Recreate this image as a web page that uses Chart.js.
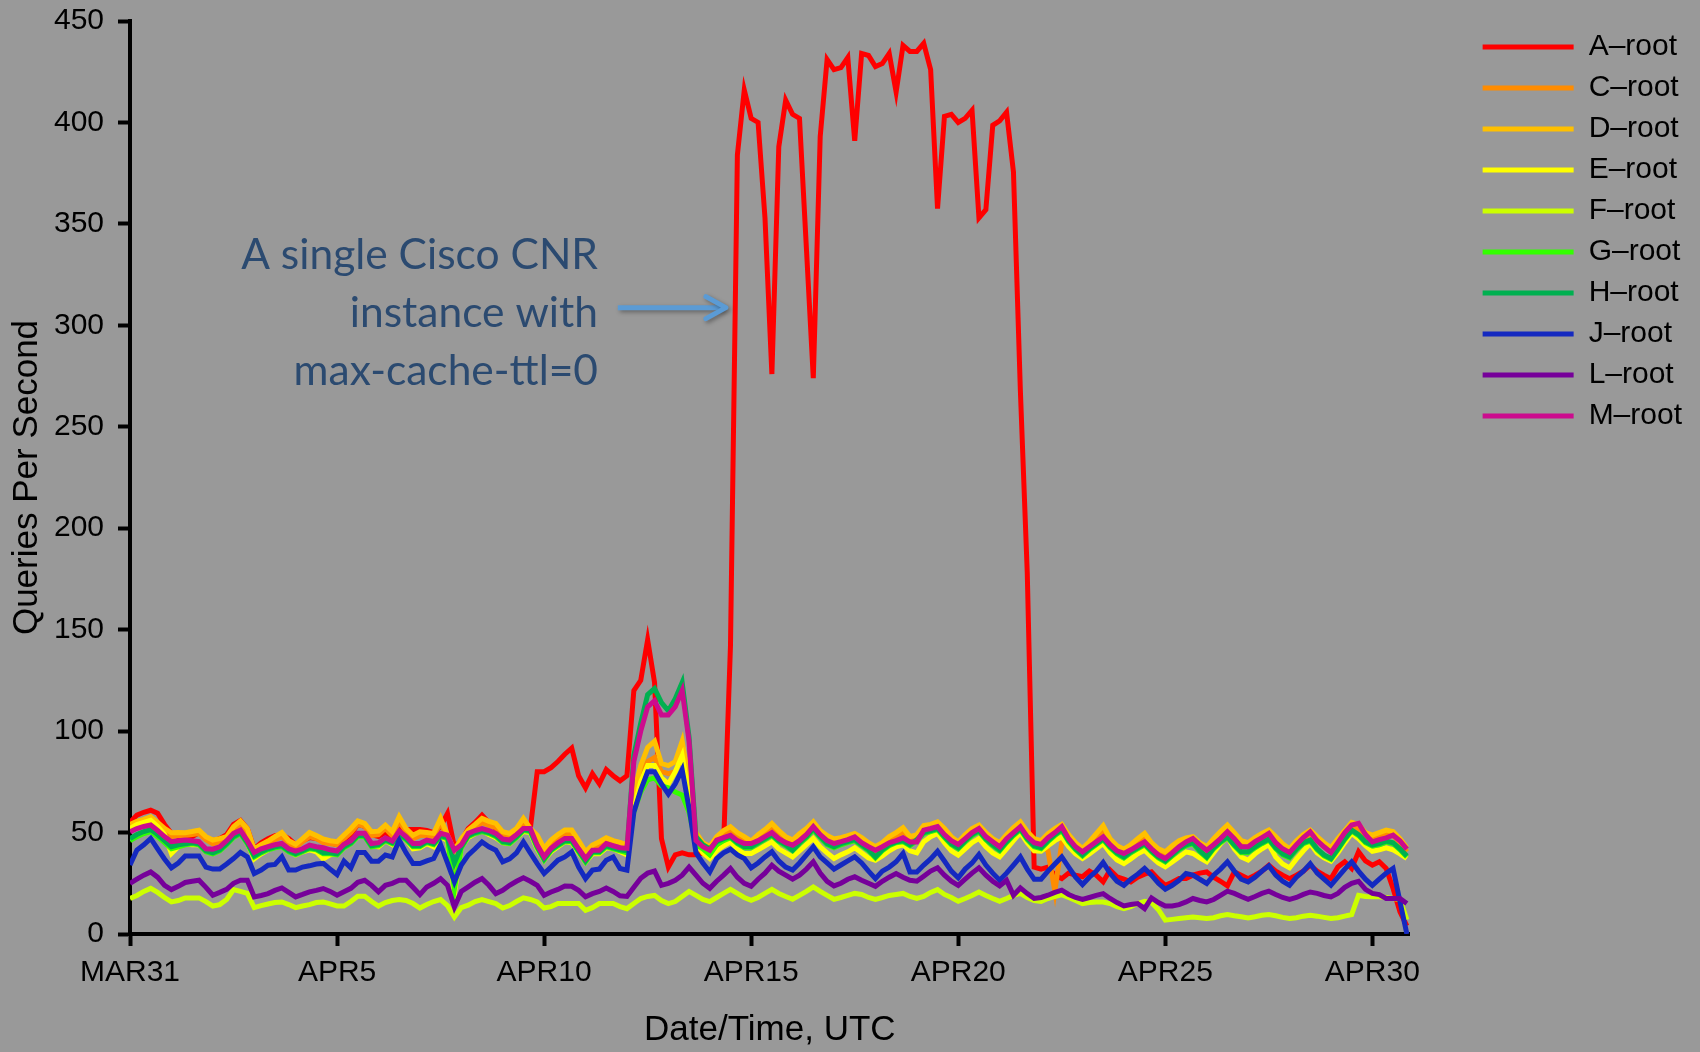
<!DOCTYPE html>
<html>
<head>
<meta charset="utf-8">
<title>Root server queries</title>
<script src="https://cdn.jsdelivr.net/npm/chart.js@4.4.1/dist/chart.umd.min.js"></script>
<style>
  html, body { margin: 0; padding: 0; background: #999999; }
  #wrap { width: 1700px; height: 1052px; }
</style>
</head>
<body>
<div id="wrap"><canvas id="grafica" width="1700" height="1052"></canvas></div>
<script>
// ---------- Dades: una mostra cada 4 hores des de MAR31 00:00 ----------
const tickDays = [0, 5, 10, 15, 20, 25, 30];
const tickLabels = ['MAR31', 'APR5', 'APR10', 'APR15', 'APR20', 'APR25', 'APR30'];
const rootNames = ['A–root', 'C–root', 'D–root', 'E–root', 'F–root', 'G–root', 'H–root', 'J–root', 'L–root', 'M–root'];
const rootColors = ['#ff0000', '#ff8c00', '#ffc000', '#ffff00', '#ccff00', '#33ff00', '#00b050', '#1429c0', '#76009a', '#cc0c8e'];

const aRoot = [
  55, 58.6, 60, 61, 59.5, 54,   49.6, 48, 47, 48, 50, 47,   46, 47, 49, 54, 56, 52,
  42, 45, 47, 48.5, 49, 47,     44, 46, 47.5, 47, 46, 45,   44, 46.5, 49, 54, 53, 49,
  48, 50, 47, 52, 51.5, 51.5,   51.5, 51, 50, 53, 59.4, 43, 46, 52, 55, 58.6, 55, 52,
  50, 49, 51, 56, 52, 80,       80, 82, 85, 88.6, 91.6, 78, 72, 79, 74, 81, 78, 75.5,
  78, 120, 125, 145, 124, 47,   33, 39, 40, 39, 39, 40,     40, 42, 44, 142, 384, 416,
  402, 400, 353, 276, 388, 411, 404, 402, 338, 274, 393, 431, 426, 427, 432, 391, 434, 433,
  427.5, 429, 434, 415, 438, 435, 435, 439, 426, 357.5, 403, 404, 400, 402, 406, 353, 357, 398.6,
  400.8, 405, 375.6, 268, 178, 33, 32, 33, 29, 27.3, 30, 29, 28.2, 31, 29, 25.7, 31.5, 28.2,
  27, 25.7, 28, 29.5, 30.6, 27, 24, 25.5, 27.3, 27.3, 29, 30, 30.6, 28, 26, 23.7, 30.6, 29,
  27.3, 29, 31, 33.9, 31, 29,   27.3, 29, 31, 33.9, 31, 29, 27.3, 33, 35.6, 32.3, 40.5, 36,
  33.9, 35.6, 32.3, 22.4, 10.9, 4
];
const cRoot = [
  52, 54, 55, 56, 53.5, 50.5,   48, 48.5, 48.5, 49, 49.5, 46.5, 44.5, 45.5, 46.5, 51, 54, 50,
  40.5, 42.5, 44.5, 46.5, 48, 44.5, 42.5, 45.5, 48, 47, 45, 44.5, 44, 47, 50, 54, 53, 48.5,
  49, 52, 48.5, 55.5, 50.5, 47, 48.5, 48.5, 48, 55, 47, 34, 45.5, 49.5, 52, 55, 53.5, 52.5,
  48.5, 48, 50.5, 55, 50.5, 47, 40.5, 44.5, 47, 49.5, 49.5, 44.5, 39, 42, 43.5, 45.5, 44.5, 43.5,
  42, 66, 78, 85, 87, 80,       79, 80, 88, 70, 48, 43,     41, 46, 49, 51, 48, 46,
  44, 47, 49.5, 52.5, 49, 46,   44.5, 47.5, 50, 53.5, 49, 46.5, 45, 45.5, 46.5, 47.5, 45.5, 43,
  41, 43, 46, 48, 50.5, 46,     47, 51.5, 52, 53.5, 50, 46, 43.5, 47, 50, 52, 48, 45,
  43, 47, 50.5, 53.5, 48.5, 45, 44, 41, 21, 45, 47, 43,     40.5, 43.5, 47.5, 51.5, 45, 41.5,
  40, 42, 45, 47.5, 43, 40,     38.5, 41.5, 44, 45.5, 46, 43, 41, 45, 48.5, 51.7, 48, 44,
  43, 45.5, 47.5, 49.2, 46, 42.5, 40, 44, 47, 49.2, 46, 43, 40.5, 45, 49, 53, 52, 48,
  46.7, 48, 49.2, 48.5, 45, 40.5
];
const dRoot = [
  54, 55.5, 56.5, 57.8, 55, 52, 49.9, 50, 49.9, 50.5, 51.2, 48, 46.3, 47, 48, 52.9, 55.7, 52,
  41.8, 44, 45.8, 48, 50, 46,   44.2, 47, 50, 48.5, 46.8, 46, 45.5, 48.8, 52, 55.7, 54.5, 50.4,
  50.7, 53.7, 50.4, 57.8, 52, 48.7, 50.4, 50, 49.6, 57, 48.7, 41.3, 47, 51.2, 54, 57, 55.5, 54.5,
  50.4, 49.6, 52, 57, 52, 48.7, 42.2, 46.3, 49, 51.2, 51.2, 46, 40.5, 43.8, 45.5, 47.4, 46, 45.1,
  43.8, 70, 83, 92, 95, 84,     83, 85, 95, 75, 50, 45,     43, 48, 51, 52.9, 50, 48,
  45.8, 49, 51.5, 54.5, 51, 48, 46.3, 49.5, 52, 55.3, 51, 48.5, 46.8, 47.5, 48.5, 49.6, 47.5, 45,
  43, 45, 48, 50, 52.4, 48,     49, 53.5, 54, 55.3, 52, 48, 45.4, 49, 52, 53.7, 50, 47,
  45, 49, 52.5, 55.3, 50.5, 47, 46, 49.5, 52, 54, 49, 45,   42.2, 45.5, 49.5, 53.4, 47, 43.5,
  41.8, 44, 47, 49.6, 45, 42,   40.5, 43.5, 46, 47.4, 48, 45, 43, 47, 50.5, 53.7, 50, 46,
  45, 47.5, 49.5, 51.2, 48, 44.5, 42, 46, 49, 51.2, 48, 45, 42.5, 47, 51, 55, 54, 50,
  48.7, 50, 51.2, 50.5, 47, 42.5
];
const eRoot = [
  52, 54, 55, 56, 53, 49,       39.7, 43, 44.5, 44, 44, 41, 40.5, 42, 45, 48.5, 50, 45,
  37, 39.5, 41.5, 43, 43.5, 41, 39, 40.5, 41.5, 40.5, 37, 39, 39.5, 42.5, 45, 48, 48.5, 43.5,
  43, 46, 44, 49.5, 46.5, 42,   42.5, 44.5, 43, 48, 46, 20, 43, 47.5, 49.5, 51, 49, 47.5,
  45, 44.5, 47.5, 50.5, 50, 42, 36.5, 40.5, 43, 45.5, 45, 40, 35.5, 39.5, 39.5, 42.5, 42, 40.5,
  39, 62, 75, 83, 83, 77,       74, 80, 88, 68, 45, 40,     37.2, 41, 43.5, 45.4, 42, 39.7,
  39.7, 41.5, 43.5, 45.4, 42, 40, 38, 41, 44, 47.1, 43, 40, 37.2, 39, 40.5, 42.5, 40, 37.5,
  36.4, 38.5, 41, 43, 44, 41,   40, 45.5, 48, 49.6, 45, 41, 38.9, 42, 45, 47.1, 43, 40,
  38, 42, 46, 50, 45, 41,       40.8, 43.5, 46, 47.9, 43, 39.5, 37.2, 39.5, 42, 44.6, 40, 36.5,
  34.7, 37, 39.5, 41.3, 38, 35, 33.1, 35.5, 38, 40.5, 39.7, 37.5, 35.6, 40, 44.5, 47.9, 42, 38,
  36.4, 39.5, 42, 44.1, 38, 34.5, 32.6, 37, 41, 44.6, 40, 37.5, 35.9, 40, 45, 49.6, 47, 43.5,
  40.8, 41.5, 42.5, 41.5, 39.5, 37.2
];
const fRoot = [
  17.5, 19, 21, 22.5, 20.5, 18, 15.8, 16.5, 17.8, 17.8, 17.8, 16, 13.8, 14.5, 17, 21.9, 21, 20,
  13, 14, 14.8, 15.5, 15.8, 14.5, 13, 13.8, 14.5, 15.5, 15.8, 14.8, 13.8, 13.8, 16, 18.6, 18.6, 16,
  13.8, 15.5, 16.5, 17, 16.5, 15, 12.8, 14.5, 16, 17, 14, 8.4, 13, 14.2, 16, 17, 16, 15,
  12.8, 14, 16, 17.8, 17, 15.8, 12.8, 13.5, 15, 15, 15, 15, 11.7, 13, 15, 15, 15, 13.5,
  12.5, 15, 17.5, 18.5, 19, 16.5, 15, 16, 18.5, 21, 19, 17, 16, 18, 20, 22, 20, 18,
  16.6, 18, 20, 22, 20, 18.5,   17.1, 19, 21, 23.2, 21, 19, 17.1, 18, 19, 20, 19.5, 18,
  17.1, 18, 19, 19.5, 20, 18.5, 17.5, 18.5, 20.5, 21.9, 19.5, 18, 16.1, 17.5, 19, 20.7, 19, 17.5,
  16.1, 17.5, 19, 20, 18, 16.5, 16.1, 17.5, 18.5, 19.4, 18, 16.5, 15, 15.5, 15.8, 15.8, 15, 13.5,
  12.5, 13.5, 15, 16.1, 15.5, 12, 6.8, 7.2, 7.6, 8, 8.4, 8, 7.6, 8, 9, 9.6, 9, 8.5,
  7.9, 8.5, 9.2, 9.6, 9, 8.2,   7.6, 8, 8.8, 9.2, 8.8, 8.2, 7.6, 8, 8.8, 9.6, 19.1, 18.5,
  18.3, 18.3, 18, 17.5, 17, 7
];
const gRoot = [
  46, 48, 49.5, 50.5, 48, 45,   42, 43, 44, 44.5, 44, 40.5, 39.5, 41, 44, 47.5, 49.5, 44.5,
  38, 40, 41.5, 42.5, 43, 40.5, 39, 40.5, 42, 41.5, 39.5, 39.5, 39, 42.5, 44.5, 48, 48, 43,
  43.5, 46, 44.5, 49, 46.5, 43, 43, 45, 44, 48, 47, 22, 42.5, 48, 49.5, 50.5, 49.5, 48,
  45, 44.5, 47.5, 51, 50.5, 42.5, 36.5, 41, 43.5, 45.5, 45.5, 40.5, 35.5, 40, 40, 43, 42, 41,
  40, 60, 70, 76, 77, 73,       72, 70, 68.5, 60, 44, 42,   39, 44, 46, 47.5, 44.5, 42.5,
  42.5, 44.5, 46.5, 48.5, 45.5, 43.5, 41, 44.5, 47.5, 51.5, 47.5, 44, 42.5, 44, 45, 46, 43.5, 41,
  37.5, 41, 43.5, 45, 45.5, 43.5, 46, 49.5, 50.5, 51.5, 47.5, 44, 42, 45.5, 48.5, 50.5, 46.5, 43.5,
  41, 45, 48.5, 51.5, 46.5, 43, 42, 45.5, 48.5, 51, 45.5, 41.5, 38.5, 41.5, 44, 46.5, 42.5, 39.5,
  37.5, 40, 42, 44, 40.5, 37.5, 35.5, 38.5, 41.5, 43.5, 44.5, 40.5, 37.5, 42, 45, 47.5, 43.5, 40,
  40, 42.5, 44.5, 46.3, 42, 39, 37.5, 41.5, 44.5, 45.8, 41.5, 38.5, 36.8, 41.5, 46.5, 50.8, 48.5, 45,
  43.3, 44, 45.3, 44.5, 41.5, 38
];
const hRoot = [
  47, 49, 50.5, 51.5, 49, 46,   43, 44, 44.5, 45, 44.5, 41, 40, 41.5, 44.5, 48, 50, 45,
  38.5, 40.5, 42, 43, 43.5, 41, 39.5, 41, 42.5, 42, 40, 40, 39.5, 43, 45, 48.5, 48.5, 43.5,
  44, 46.5, 45, 49.5, 47, 43.5, 43.5, 45.5, 44.5, 48.5, 47.5, 35, 43, 48.5, 50, 51, 50, 48.5,
  45.5, 45, 48, 51.5, 51, 43,   37, 41.5, 44, 46, 46, 41, 36, 40.5, 40.5, 43.5, 42.5, 41.5,
  41, 88, 104, 118, 121, 114,   110, 116, 124, 97, 48, 44,  42, 45.5, 47, 48, 45, 43,
  43, 45, 47, 49, 46, 44,       41.3, 45, 48, 52, 48, 44.5, 43, 44.5, 45.5, 46.5, 44, 41.5,
  38, 41.5, 44, 45.4, 46, 44,   46.5, 50, 51, 52, 48, 44.5, 42.5, 46, 49, 51, 47, 44,
  41.5, 45.5, 49, 52, 47, 43.5, 42.5, 46, 49, 51.5, 46, 42, 39, 42, 44.5, 47, 43, 40,
  38, 40.5, 42.5, 44.5, 41, 38, 36, 39, 42, 44, 45, 41,   38, 42.5, 45.5, 47.9, 44, 40.5,
  40.5, 43, 45, 46.8, 42.5, 39.5, 38, 42, 45, 46.3, 42, 39, 37.2, 42, 47, 51.2, 49, 45.5,
  43.8, 44.5, 45.8, 45, 42, 38.5
];
const jRoot = [
  34, 41.4, 44, 47.1, 42, 37,   32.6, 35, 38.5, 38.5, 38.5, 33, 32, 32, 34.5, 37.2, 40.2, 38,
  29.8, 31.5, 33.9, 34.3, 38, 31.5, 31.5, 33, 33.6, 34.5, 34.8, 32, 29.3, 35.9, 32.6, 40.2, 40.2, 35.9,
  35.9, 38.9, 38, 46.3, 40, 34.7, 34.7, 36, 37.2, 44, 35, 25.7, 34, 38.9, 42, 45.4, 43, 41.3,
  35.6, 37, 40, 45.4, 40, 34.7, 29.8, 33, 36.4, 38, 40.5, 33, 27.3, 31.5, 32, 36.4, 38, 32.3,
  31.5, 60, 71, 80, 80, 74,     69, 74, 81, 62, 40, 35,     30.6, 37.2, 40, 41.8, 39, 37.2,
  32.6, 35, 38, 40.5, 36, 33,   31.5, 35, 39, 43, 38, 35,   32, 34, 36, 38, 35, 31,
  27.3, 31, 33, 35.6, 39.7, 30.6, 30.6, 34, 37, 40.8, 36, 31, 27.7, 32, 35, 39.2, 34, 30,
  26.5, 30, 34, 38, 32, 27,     27, 31, 34.5, 38, 33, 28,   24.4, 28, 31, 35.2, 30, 26,
  24, 27, 29.5, 32.3, 29, 25,   22.1, 24, 26.5, 29.8, 29, 27, 24.9, 29, 32, 35.6, 31, 27,
  25.7, 28, 31, 33.6, 29, 26,   24, 28, 31, 34.7, 30, 27,   24, 28, 32, 35.6, 31, 27,
  24, 27, 30, 32.3, 16, 0
];
const lRoot = [
  24.9, 27, 29, 30.6, 28, 24,   21.9, 23.5, 25.4, 26, 26.5, 23, 19.1, 20.5, 22, 25, 26.5, 26.5,
  18.3, 19, 19.9, 21.5, 22.7, 20.5, 18.3, 19.5, 20.8, 21.5, 22.4, 21, 19.1, 20.8, 22.5, 25.5, 26.5, 24,
  20.8, 24, 25, 26.5, 26.5, 23, 19.4, 23.2, 25, 27.3, 24, 13.3, 21, 23.2, 25.5, 27.3, 24, 19.9,
  21.5, 24, 26, 27.7, 26, 24,   19.1, 20.7, 22, 23.7, 23.5, 21.5, 18.3, 19.9, 21, 22.7, 21, 18.8,
  18.5, 23, 27.5, 30, 31, 24,   25, 26.5, 29, 33, 29, 25,   22.5, 26, 29, 32.3, 28, 25,
  23.5, 27, 30, 33.9, 31, 29,   27, 29, 32, 35.6, 30, 26,   23.7, 25, 27, 28.2, 26.5, 25,
  23.5, 26, 28, 29.8, 28, 26.5, 26, 28.5, 31, 32.6, 29, 26, 24, 27, 30, 32.6, 29, 26,
  23.7, 26.5, 19.1, 22.7, 19.9, 17.5, 18, 19.1, 20.5, 21.6, 19.5, 18, 17, 18, 19, 19.9, 17.5, 15.5,
  13.8, 14.5, 15, 12.5, 17.8, 15.5, 13.8, 13.8, 14.5, 15.8, 17.5, 16.5, 15.8, 17, 19, 21.1, 20, 18.5,
  17.1, 18.5, 20, 21.1, 19.5, 18, 17.1, 18, 19.5, 20.7, 20, 19, 18.3, 20, 23, 25, 26, 22,
  20, 19.4, 17.5, 17.5, 17.5, 15
];
const mRoot = [
  50.4, 52, 53, 53.7, 51, 48,   45.5, 46, 46.3, 46, 45.5, 42, 41.8, 43, 46, 49.6, 51.2, 46,
  40.2, 42, 43, 44, 44.6, 42,   40.9, 42, 43.8, 43, 42.5, 41.5, 40.9, 44.2, 46, 49.6, 49.6, 44.6,
  45, 47.4, 45.8, 50.7, 48, 44.6, 44.6, 46.3, 45.5, 49.6, 48.7, 41.3, 44, 49.6, 51, 52, 51, 49.6,
  46.8, 46.3, 49, 52, 52, 43.8, 38, 42.2, 45, 47.1, 47.1, 42, 37.2, 41.3, 41.3, 44.6, 43.5, 42.5,
  42.2, 85, 100, 112, 115, 108, 108, 112, 120, 95, 46, 43,  41.3, 46.3, 47.5, 48.7, 46, 44.6,
  44.6, 46, 48, 50, 47, 45,     43.8, 46, 49, 52.9, 49, 46, 44.6, 45.5, 46.5, 47.9, 45, 43,
  41.3, 43, 45, 46, 47.4, 45.4, 45.4, 51.2, 52, 52.9, 49, 46, 44.1, 47, 50, 52, 48, 45.5,
  43, 47, 50, 52.9, 48, 45,     44.1, 47.5, 50, 52.9, 47, 43, 40.5, 43, 45.5, 47.9, 44, 41,
  39.7, 41.5, 43.5, 45.4, 42, 39, 37.2, 40, 43, 45.4, 47.1, 44, 41.3, 44, 47, 50.4, 47, 43,
  43, 45.5, 47.5, 49.6, 45, 42, 40.2, 44, 47.5, 50.4, 46, 43, 40.2, 45, 50, 53.7, 54.5, 49,
  45.4, 46.5, 47.4, 48.7, 46, 41.8
];

const seriesValues = [aRoot, cRoot, dRoot, eRoot, fRoot, gRoot, hRoot, jRoot, lRoot, mRoot];

// dia (fraccional) de cada mostra, pas de 4 hores
const sampleDays = aRoot.map((_, i) => i / 6);

// ---------- Text i fletxa de l'anotació ----------
const noteLines = ['A single Cisco CNR', 'instance with', 'max-cache-ttl=0'];

const calloutPlugin = {
  id: 'callout',
  afterDatasetsDraw(chart) {
    const { ctx, scales: { x, y } } = chart;
    ctx.save();

    ctx.font = '42.5px Lato';
    ctx.fillStyle = '#2b4a70';
    ctx.textAlign = 'right';
    ctx.textBaseline = 'alphabetic';
    const textRight = x.getPixelForValue(11.3);
    const firstBase = y.getPixelForValue(328);
    noteLines.forEach((line, i) => {
      ctx.fillText(line, textRight, firstBase + i * 58);
    });

    const x0 = x.getPixelForValue(11.78);
    const x1 = x.getPixelForValue(14.39);
    const ya = y.getPixelForValue(308.7);
    ctx.shadowColor = 'rgba(0, 0, 0, 0.35)';
    ctx.shadowBlur = 4;
    ctx.shadowOffsetX = 2;
    ctx.shadowOffsetY = 2;
    ctx.strokeStyle = '#5b9bd5';
    ctx.lineWidth = 5;
    ctx.lineCap = 'butt';
    ctx.beginPath();
    ctx.moveTo(x0, ya);
    ctx.lineTo(x1 - 3, ya);
    ctx.stroke();
    ctx.lineCap = 'round';
    ctx.lineJoin = 'round';
    ctx.beginPath();
    ctx.moveTo(x1 - 20, ya - 11);
    ctx.lineTo(x1, ya);
    ctx.lineTo(x1 - 20, ya + 11);
    ctx.stroke();

    ctx.restore();
  }
};

// ---------- Gràfica ----------
Chart.defaults.font.family = '"Liberation Sans", Arial, sans-serif';
Chart.defaults.color = '#000';

const axisGrid = {
  drawOnChartArea: false,
  drawTicks: true,
  tickLength: 12,
  tickWidth: 4,
  tickColor: '#000'
};

const canvas = document.getElementById('grafica');
const ctx = canvas.getContext('2d');

window.rootChart = new Chart(ctx, {
  type: 'line',
  data: {
    labels: sampleDays,
    datasets: seriesValues.map((values, i) => ({
      label: rootNames[i],
      data: values,
      borderColor: rootColors[i],
      backgroundColor: rootColors[i],
      borderWidth: 5,
      pointRadius: 0,
      tension: 0,
      fill: false,
      order: seriesValues.length - i
    }))
  },
  options: {
    responsive: false,
    animation: false,
    devicePixelRatio: 1,
    layout: { padding: { top: 21, right: 8, left: 0, bottom: 0 } },
    plugins: {
      tooltip: { enabled: false },
      legend: {
        position: 'right',
        align: 'start',
        labels: {
          boxWidth: 91,
          boxHeight: 5,
          padding: 11,
          color: '#000',
          font: { size: 30 },
          sort: (a, b) => a.datasetIndex - b.datasetIndex,
          generateLabels(chart) {
            const items = Chart.defaults.plugins.legend.labels.generateLabels(chart);
            return items.map(item => ({ ...item, fillStyle: item.strokeStyle, lineWidth: 0 }));
          }
        }
      }
    },
    scales: {
      x: {
        type: 'linear',
        min: 0,
        max: 30.9,
        afterBuildTicks: axis => { axis.ticks = tickDays.map(v => ({ value: v })); },
        afterFit: scale => { scale.height = 118; },
        ticks: {
          callback: value => tickLabels[tickDays.indexOf(value)],
          font: { size: 30 },
          padding: 9,
          maxRotation: 0,
          autoSkip: false
        },
        grid: axisGrid,
        border: { color: '#000', width: 4 },
        title: {
          display: true,
          text: 'Date/Time, UTC',
          font: { size: 35 },
          padding: { top: 17, bottom: 1 }
        }
      },
      y: {
        min: 0,
        max: 450,
        afterFit: scale => { scale.width = 130; },
        ticks: { stepSize: 50, font: { size: 30, lineHeight: 0.45 }, padding: 14 },
        grid: axisGrid,
        border: { color: '#000', width: 4 },
        title: {
          display: true,
          text: 'Queries Per Second',
          font: { size: 35 },
          padding: { top: 6, bottom: 6 }
        }
      },
      // espai buit entre l'àrea de dibuix i la llegenda
      gap: {
        type: 'linear',
        position: 'right',
        grid: { display: false, drawTicks: false },
        border: { display: false },
        ticks: { display: false },
        afterFit: scale => { scale.width = 62; }
      }
    }
  },
  plugins: [calloutPlugin]
});
</script>
</body>
</html>
